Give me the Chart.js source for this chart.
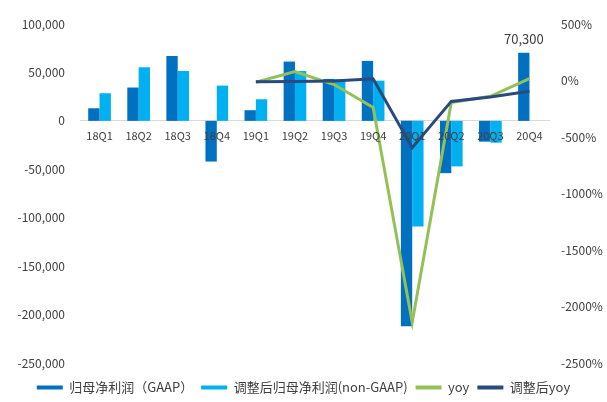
<!DOCTYPE html>
<html>
<head>
<meta charset="utf-8">
<script src="https://cdn.jsdelivr.net/npm/chart.js@4/dist/chart.umd.min.js"></script>
<style>
  html, body { margin: 0; padding: 0; background: #ffffff; }
  #wrap { width: 607px; height: 402px; position: relative; }
</style>
</head>
<body>
<div id="wrap"><canvas id="c"></canvas></div>
<script>
// Quarterly net profit attributable to parent (GAAP / non-GAAP) and YoY growth
const quarters = ['18Q1','18Q2','18Q3','18Q4','19Q1','19Q2','19Q3','19Q4','20Q1','20Q2','20Q3','20Q4'];
const gaapProfit = [13000, 34400, 67000, -42000, 11000, 61200, 43300, 61900, -212000, -54000, -21500, 70300];
const nonGaapProfit = [28500, 55300, 51500, 36400, 22300, 51500, 43000, 41500, -109000, -47000, -22500, null];
const yoyGaap = [null, null, null, null, -15, 80, -36, -238, -2140, -194, -140, 16];
const yoyNonGaap = [null, null, null, null, -12, -8, -5, 16, -595, -185, -146, -96];
const profitTicks = { min: -250000, max: 100000, step: 50000 };
const pctTicks = { min: -2500, max: 500, step: 500 };

const FONT = '"Noto Sans CJK SC", "Noto Sans", sans-serif';
const TEXT = '#404040';

// Writes the value above the last GAAP bar
const lastBarLabel = {
  id: 'lastBarLabel',
  afterDatasetsDraw(chart) {
    const meta = chart.getDatasetMeta(0);
    const i = gaapProfit.length - 1;
    const bar = meta.data[i];
    if (!bar) return;
    const ctx = chart.ctx;
    ctx.save();
    ctx.font = '13px ' + FONT;
    ctx.fillStyle = TEXT;
    ctx.textAlign = 'center';
    ctx.textBaseline = 'middle';
    ctx.fillText(gaapProfit[i].toLocaleString('en-US'), bar.x, bar.y - 14);
    ctx.restore();
  }
};

// Leaves a little air between the plot and the legend row
const legendOffset = {
  id: 'legendOffset',
  afterLayout(chart) {
    if (chart.legend) { chart.legend.top += 10; chart.legend.bottom += 10; }
  }
};

new Chart(document.getElementById('c'), {
  data: {
    labels: quarters,
    datasets: [
      { type: 'bar', label: '归母净利润（GAAP）', data: gaapProfit, yAxisID: 'y',
        backgroundColor: '#0070C0', borderWidth: 0, order: 3 },
      { type: 'bar', label: '调整后归母净利润(non-GAAP)', data: nonGaapProfit, yAxisID: 'y',
        backgroundColor: '#00B0F0', borderWidth: 0, order: 4 },
      { type: 'line', label: 'yoy', data: yoyGaap, yAxisID: 'y1',
        borderColor: '#94C058', backgroundColor: '#94C058', borderWidth: 3,
        pointRadius: 0, tension: 0, order: 2 },
      { type: 'line', label: '调整后yoy', data: yoyNonGaap, yAxisID: 'y1',
        borderColor: '#2A4A7F', backgroundColor: '#2A4A7F', borderWidth: 3,
        pointRadius: 0, tension: 0, order: 1 }
    ]
  },
  options: {
    responsive: true,
    maintainAspectRatio: false,
    animation: false,
    layout: { padding: { top: 24, bottom: 8, left: 0, right: 0 } },
    datasets: { bar: { barPercentage: 1, categoryPercentage: 0.58 } },
    plugins: {
      tooltip: { enabled: false },
      legend: {
        position: 'bottom',
        labels: {
          font: { family: FONT, size: 13 },
          color: TEXT,
          boxWidth: 26,
          boxHeight: 4,
          padding: 8,
          sort: (a, b) => a.datasetIndex - b.datasetIndex,
          generateLabels(chart) {
            const items = Chart.defaults.plugins.legend.labels.generateLabels(chart);
            items.forEach(it => { it.lineWidth = 0; it.strokeStyle = 'rgba(0,0,0,0)'; });
            return items;
          }
        }
      }
    },
    scales: {
      x: {
        position: { y: 0 },
        grid: { display: false, drawTicks: false },
        border: { display: true, color: '#D9D9D9', width: 1 },
        ticks: { z: 1, font: { family: FONT, size: 11 }, color: TEXT, padding: 8, maxRotation: 0 }
      },
      y: {
        position: 'left',
        min: profitTicks.min, max: profitTicks.max,
        grid: { display: false, drawTicks: false },
        border: { display: false },
        ticks: {
          stepSize: profitTicks.step,
          font: { family: FONT, size: 12 }, color: TEXT, padding: 15,
          callback: v => v.toLocaleString('en-US')
        },
        afterFit(s) { s.width = 80; }
      },
      y1: {
        position: 'right',
        min: pctTicks.min, max: pctTicks.max,
        grid: { display: false, drawTicks: false },
        border: { display: false },
        ticks: {
          stepSize: pctTicks.step,
          font: { family: FONT, size: 12 }, color: TEXT, padding: 12,
          callback: v => v + '%'
        },
        afterFit(s) { s.width = 58; }
      }
    }
  },
  plugins: [lastBarLabel, legendOffset]
});
</script>
</body>
</html>
